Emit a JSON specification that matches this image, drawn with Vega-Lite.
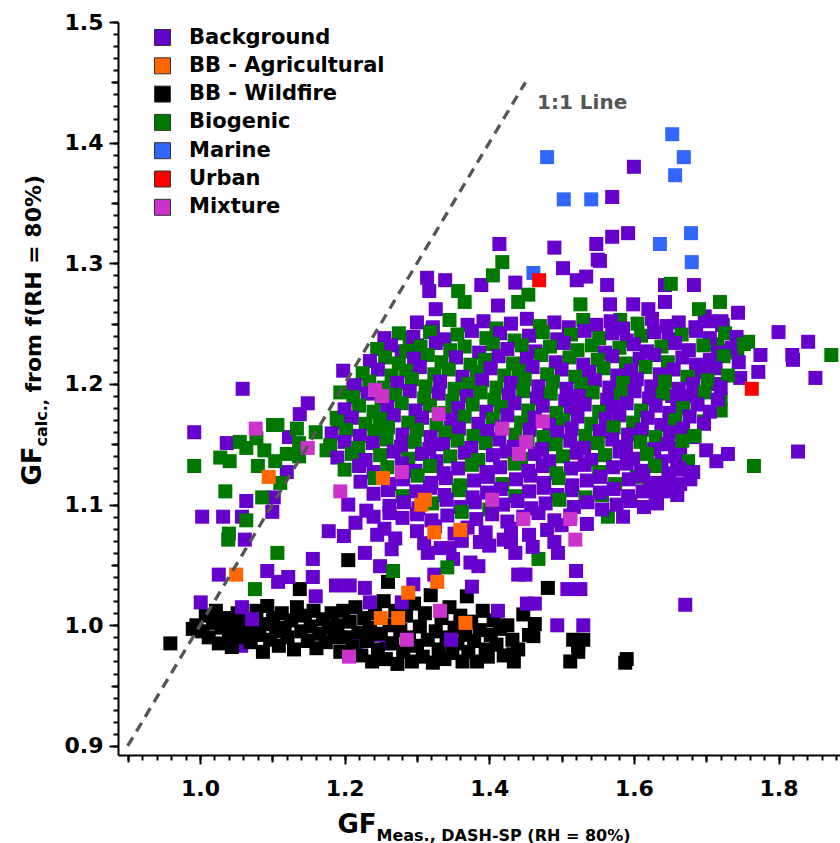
{
"$schema": "https://vega.github.io/schema/vega-lite/v6.json",
"autosize": {"type": "none"},
"width": 722,
"height": 733,
"padding": {"left": 118, "top": 22, "right": 0, "bottom": 88},
"background": "white",
"config": {"view": {"stroke": null}, "axis": {"grid": false, "labelColor": "black", "tickColor": "black", "domainColor": "black", "titleColor": "black", "labelFont": "DejaVu Sans", "titleFont": "DejaVu Sans", "labelFontWeight": "bold", "titleFontWeight": "bold"}},
"resolve": {"axis": {"x": "independent", "y": "independent"}},
"layer": [
{
"data": {"values": [
{"x":1.057,"y":0.983,"c":"Background"},{"x":1.195,"y":0.99,"c":"Background"},{"x":1.215,"y":0.985,"c":"Background"},{"x":1.235,"y":0.994,"c":"Background"},{"x":1.22,"y":0.99,"c":"Background"},{"x":1.245,"y":0.992,"c":"Background"},{"x":1.258,"y":0.985,"c":"Background"},
{"x":0.959,"y":0.985,"c":"BB - Wildfire"},{"x":0.99,"y":0.997,"c":"BB - Wildfire"},{"x":0.995,"y":1.0,"c":"BB - Wildfire"},{"x":1.003,"y":0.995,"c":"BB - Wildfire"},{"x":1.008,"y":1.008,"c":"BB - Wildfire"},{"x":1.012,"y":0.99,"c":"BB - Wildfire"},{"x":1.018,"y":1.002,"c":"BB - Wildfire"},{"x":1.022,"y":1.012,"c":"BB - Wildfire"},{"x":1.026,"y":0.985,"c":"BB - Wildfire"},{"x":1.03,"y":0.998,"c":"BB - Wildfire"},{"x":1.035,"y":1.006,"c":"BB - Wildfire"},{"x":1.04,"y":0.993,"c":"BB - Wildfire"},{"x":1.044,"y":0.982,"c":"BB - Wildfire"},{"x":1.048,"y":1.0,"c":"BB - Wildfire"},{"x":1.052,"y":1.01,"c":"BB - Wildfire"},{"x":1.057,"y":0.99,"c":"BB - Wildfire"},{"x":1.061,"y":0.998,"c":"BB - Wildfire"},{"x":1.066,"y":1.004,"c":"BB - Wildfire"},{"x":1.07,"y":0.986,"c":"BB - Wildfire"},{"x":1.074,"y":0.995,"c":"BB - Wildfire"},{"x":1.078,"y":1.012,"c":"BB - Wildfire"},{"x":1.082,"y":0.992,"c":"BB - Wildfire"},{"x":1.087,"y":0.978,"c":"BB - Wildfire"},{"x":1.09,"y":1.001,"c":"BB - Wildfire"},{"x":1.093,"y":1.016,"c":"BB - Wildfire"},{"x":1.097,"y":0.988,"c":"BB - Wildfire"},{"x":1.101,"y":1.006,"c":"BB - Wildfire"},{"x":1.105,"y":0.995,"c":"BB - Wildfire"},{"x":1.109,"y":0.983,"c":"BB - Wildfire"},{"x":1.113,"y":1.01,"c":"BB - Wildfire"},{"x":1.117,"y":0.998,"c":"BB - Wildfire"},{"x":1.121,"y":0.99,"c":"BB - Wildfire"},{"x":1.126,"y":1.004,"c":"BB - Wildfire"},{"x":1.13,"y":0.98,"c":"BB - Wildfire"},{"x":1.134,"y":1.015,"c":"BB - Wildfire"},{"x":1.138,"y":1.03,"c":"BB - Wildfire"},{"x":1.14,"y":0.995,"c":"BB - Wildfire"},{"x":1.145,"y":1.008,"c":"BB - Wildfire"},{"x":1.149,"y":0.987,"c":"BB - Wildfire"},{"x":1.153,"y":0.999,"c":"BB - Wildfire"},{"x":1.157,"y":1.012,"c":"BB - Wildfire"},{"x":1.161,"y":0.981,"c":"BB - Wildfire"},{"x":1.165,"y":0.993,"c":"BB - Wildfire"},{"x":1.17,"y":1.005,"c":"BB - Wildfire"},{"x":1.174,"y":0.986,"c":"BB - Wildfire"},{"x":1.178,"y":0.998,"c":"BB - Wildfire"},{"x":1.182,"y":1.01,"c":"BB - Wildfire"},{"x":1.186,"y":0.99,"c":"BB - Wildfire"},{"x":1.19,"y":1.0,"c":"BB - Wildfire"},{"x":1.194,"y":0.978,"c":"BB - Wildfire"},{"x":1.198,"y":1.012,"c":"BB - Wildfire"},{"x":1.205,"y":1.054,"c":"BB - Wildfire"},
{"x":1.202,"y":0.99,"c":"BB - Wildfire"},{"x":1.207,"y":1.003,"c":"BB - Wildfire"},{"x":1.211,"y":0.982,"c":"BB - Wildfire"},{"x":1.215,"y":1.015,"c":"BB - Wildfire"},{"x":1.219,"y":0.994,"c":"BB - Wildfire"},{"x":1.223,"y":0.975,"c":"BB - Wildfire"},{"x":1.227,"y":1.006,"c":"BB - Wildfire"},{"x":1.231,"y":0.987,"c":"BB - Wildfire"},{"x":1.235,"y":0.998,"c":"BB - Wildfire"},{"x":1.238,"y":0.97,"c":"BB - Wildfire"},{"x":1.242,"y":1.01,"c":"BB - Wildfire"},{"x":1.246,"y":0.98,"c":"BB - Wildfire"},{"x":1.25,"y":0.993,"c":"BB - Wildfire"},{"x":1.254,"y":1.02,"c":"BB - Wildfire"},{"x":1.257,"y":0.972,"c":"BB - Wildfire"},{"x":1.26,"y":1.036,"c":"BB - Wildfire"},{"x":1.262,"y":1.0,"c":"BB - Wildfire"},{"x":1.266,"y":0.985,"c":"BB - Wildfire"},{"x":1.27,"y":1.012,"c":"BB - Wildfire"},{"x":1.273,"y":0.968,"c":"BB - Wildfire"},{"x":1.277,"y":0.996,"c":"BB - Wildfire"},{"x":1.281,"y":0.978,"c":"BB - Wildfire"},{"x":1.285,"y":1.008,"c":"BB - Wildfire"},{"x":1.289,"y":0.99,"c":"BB - Wildfire"},{"x":1.293,"y":0.97,"c":"BB - Wildfire"},{"x":1.296,"y":1.018,"c":"BB - Wildfire"},{"x":1.3,"y":0.983,"c":"BB - Wildfire"},{"x":1.304,"y":0.999,"c":"BB - Wildfire"},{"x":1.308,"y":0.974,"c":"BB - Wildfire"},{"x":1.311,"y":1.01,"c":"BB - Wildfire"},{"x":1.315,"y":0.988,"c":"BB - Wildfire"},{"x":1.319,"y":1.025,"c":"BB - Wildfire"},{"x":1.322,"y":0.969,"c":"BB - Wildfire"},{"x":1.326,"y":0.995,"c":"BB - Wildfire"},{"x":1.33,"y":0.98,"c":"BB - Wildfire"},{"x":1.334,"y":1.006,"c":"BB - Wildfire"},{"x":1.338,"y":0.972,"c":"BB - Wildfire"},{"x":1.341,"y":0.99,"c":"BB - Wildfire"},{"x":1.345,"y":1.015,"c":"BB - Wildfire"},{"x":1.349,"y":0.977,"c":"BB - Wildfire"},{"x":1.352,"y":0.998,"c":"BB - Wildfire"},{"x":1.356,"y":0.985,"c":"BB - Wildfire"},{"x":1.36,"y":1.008,"c":"BB - Wildfire"},{"x":1.363,"y":0.97,"c":"BB - Wildfire"},{"x":1.367,"y":0.992,"c":"BB - Wildfire"},{"x":1.369,"y":1.024,"c":"BB - Wildfire"},{"x":1.371,"y":0.978,"c":"BB - Wildfire"},{"x":1.375,"y":1.003,"c":"BB - Wildfire"},{"x":1.379,"y":0.987,"c":"BB - Wildfire"},{"x":1.383,"y":0.97,"c":"BB - Wildfire"},{"x":1.387,"y":0.996,"c":"BB - Wildfire"},{"x":1.391,"y":1.012,"c":"BB - Wildfire"},{"x":1.395,"y":0.98,"c":"BB - Wildfire"},{"x":1.398,"y":0.974,"c":"BB - Wildfire"},{"x":1.402,"y":0.992,"c":"BB - Wildfire"},{"x":1.406,"y":1.004,"c":"BB - Wildfire"},{"x":1.41,"y":0.984,"c":"BB - Wildfire"},{"x":1.415,"y":0.997,"c":"BB - Wildfire"},{"x":1.42,"y":0.975,"c":"BB - Wildfire"},{"x":1.425,"y":1.0,"c":"BB - Wildfire"},{"x":1.432,"y":0.988,"c":"BB - Wildfire"},{"x":1.433,"y":0.976,"c":"BB - Wildfire"},{"x":1.434,"y":0.97,"c":"BB - Wildfire"},{"x":1.44,"y":0.98,"c":"BB - Wildfire"},{"x":1.447,"y":1.009,"c":"BB - Wildfire"},{"x":1.455,"y":0.992,"c":"BB - Wildfire"},{"x":1.461,"y":0.991,"c":"BB - Wildfire"},{"x":1.463,"y":1.001,"c":"BB - Wildfire"},
{"x":1.481,"y":1.031,"c":"BB - Wildfire"},{"x":1.512,"y":0.97,"c":"BB - Wildfire"},{"x":1.516,"y":0.988,"c":"BB - Wildfire"},{"x":1.523,"y":0.984,"c":"BB - Wildfire"},{"x":1.523,"y":0.978,"c":"BB - Wildfire"},{"x":1.53,"y":0.988,"c":"BB - Wildfire"},{"x":1.588,"y":0.969,"c":"BB - Wildfire"},{"x":1.59,"y":0.972,"c":"BB - Wildfire"},
{"x":1.347,"y":0.988,"c":"Background"},{"x":1.412,"y":1.012,"c":"Background"},{"x":1.452,"y":1.018,"c":"Background"},{"x":1.463,"y":1.018,"c":"Background"},{"x":1.494,"y":1.0,"c":"Background"},{"x":1.53,"y":1.0,"c":"Background"},{"x":1.52,"y":1.045,"c":"Background"},{"x":1.508,"y":1.03,"c":"Background"},{"x":1.526,"y":1.03,"c":"Background"},{"x":1.495,"y":1.06,"c":"Background"},{"x":1.44,"y":1.042,"c":"Background"},{"x":1.45,"y":1.042,"c":"Background"},{"x":1.671,"y":1.017,"c":"Background"},
{"x":1.324,"y":1.042,"c":"Background"},{"x":1.315,"y":1.06,"c":"Background"},{"x":1.333,"y":1.064,"c":"Background"},{"x":1.265,"y":1.063,"c":"Background"},{"x":1.249,"y":1.049,"c":"Background"},{"x":1.228,"y":1.06,"c":"Background"},{"x":1.228,"y":1.031,"c":"Background"},{"x":1.235,"y":1.019,"c":"Background"},{"x":1.279,"y":1.019,"c":"Background"},{"x":1.295,"y":1.034,"c":"Background"},{"x":1.436,"y":1.06,"c":"Background"},{"x":1.43,"y":1.069,"c":"Background"},{"x":1.387,"y":1.069,"c":"Background"},{"x":1.35,"y":1.055,"c":"Background"},{"x":1.374,"y":1.052,"c":"Background"},{"x":1.385,"y":1.049,"c":"Background"},{"x":1.376,"y":1.032,"c":"Background"},{"x":1.24,"y":1.09,"c":"Background"},{"x":1.255,"y":1.08,"c":"Background"},{"x":1.262,"y":1.093,"c":"Background"},{"x":1.245,"y":1.075,"c":"Background"},{"x":1.27,"y":1.072,"c":"Background"},{"x":1.205,"y":1.1,"c":"Background"},{"x":1.215,"y":1.085,"c":"Background"},{"x":1.23,"y":1.095,"c":"Background"},
{"x":1.059,"y":1.196,"c":"Background"},{"x":0.992,"y":1.16,"c":"Background"},{"x":1.037,"y":1.151,"c":"Background"},{"x":1.123,"y":1.156,"c":"Background"},{"x":1.12,"y":1.127,"c":"Background"},{"x":1.138,"y":1.175,"c":"Background"},{"x":1.149,"y":1.184,"c":"Background"},{"x":1.198,"y":1.211,"c":"Background"},{"x":1.212,"y":1.196,"c":"Background"},{"x":1.064,"y":1.103,"c":"Background"},{"x":1.102,"y":1.106,"c":"Background"},{"x":1.003,"y":1.09,"c":"Background"},{"x":1.032,"y":1.09,"c":"Background"},{"x":1.058,"y":1.09,"c":"Background"},{"x":1.1,"y":1.094,"c":"Background"},{"x":1.062,"y":1.071,"c":"Background"},{"x":1.178,"y":1.078,"c":"Background"},{"x":1.199,"y":1.074,"c":"Background"},{"x":1.198,"y":1.168,"c":"Background"},{"x":1.156,"y":1.055,"c":"Background"},{"x":1.026,"y":1.042,"c":"Background"},{"x":1.093,"y":1.045,"c":"Background"},{"x":1.108,"y":1.036,"c":"Background"},{"x":1.122,"y":1.04,"c":"Background"},{"x":1.156,"y":1.04,"c":"Background"},{"x":1.001,"y":1.019,"c":"Background"},{"x":1.058,"y":1.015,"c":"Background"},{"x":1.16,"y":1.024,"c":"Background"},{"x":1.188,"y":1.033,"c":"Background"},{"x":1.207,"y":1.033,"c":"Background"},{"x":1.072,"y":1.005,"c":"Background"},
{"x":1.6,"y":1.38,"c":"Background"},{"x":1.57,"y":1.355,"c":"Background"},{"x":1.592,"y":1.325,"c":"Background"},{"x":1.57,"y":1.322,"c":"Background"},{"x":1.548,"y":1.316,"c":"Background"},{"x":1.49,"y":1.313,"c":"Background"},{"x":1.414,"y":1.316,"c":"Background"},{"x":1.55,"y":1.303,"c":"Background"},{"x":1.502,"y":1.296,"c":"Background"},{"x":1.314,"y":1.288,"c":"Background"},{"x":1.339,"y":1.286,"c":"Background"},{"x":1.317,"y":1.277,"c":"Background"},{"x":1.389,"y":1.282,"c":"Background"},{"x":1.436,"y":1.284,"c":"Background"},{"x":1.326,"y":1.262,"c":"Background"},{"x":1.412,"y":1.265,"c":"Background"},{"x":1.521,"y":1.286,"c":"Background"},{"x":1.534,"y":1.289,"c":"Background"},{"x":1.553,"y":1.302,"c":"Background"},{"x":1.563,"y":1.282,"c":"Background"},{"x":1.643,"y":1.282,"c":"Background"},{"x":1.683,"y":1.282,"c":"Background"},{"x":1.567,"y":1.266,"c":"Background"},{"x":1.599,"y":1.266,"c":"Background"},{"x":1.62,"y":1.262,"c":"Background"},{"x":1.643,"y":1.268,"c":"Background"},{"x":1.744,"y":1.259,"c":"Background"},{"x":1.698,"y":1.256,"c":"Background"},{"x":1.8,"y":1.243,"c":"Background"},{"x":1.841,"y":1.235,"c":"Background"},{"x":1.775,"y":1.224,"c":"Background"},{"x":1.819,"y":1.224,"c":"Background"},{"x":1.721,"y":1.252,"c":"Background"},{"x":1.851,"y":1.205,"c":"Background"},{"x":1.827,"y":1.144,"c":"Background"},{"x":1.73,"y":1.142,"c":"Background"},{"x":1.714,"y":1.136,"c":"Background"},{"x":1.7,"y":1.145,"c":"Background"},{"x":1.682,"y":1.156,"c":"Background"},{"x":1.715,"y":1.2,"c":"Background"},{"x":1.747,"y":1.205,"c":"Background"},{"x":1.772,"y":1.21,"c":"Background"},{"x":1.82,"y":1.22,"c":"Background"},{"x":1.66,"y":1.108,"c":"Background"},{"x":1.622,"y":1.115,"c":"Background"},{"x":1.66,"y":1.129,"c":"Background"},{"x":1.664,"y":1.147,"c":"Background"},{"x":1.653,"y":1.16,"c":"Background"},{"x":1.653,"y":1.19,"c":"Background"},{"x":1.321,"y":1.244,"c":"Background"},{"x":1.3,"y":1.232,"c":"Background"},{"x":1.279,"y":1.227,"c":"Background"},
{"x":0.992,"y":1.132,"c":"Biogenic"},{"x":1.028,"y":1.139,"c":"Biogenic"},{"x":1.041,"y":1.136,"c":"Biogenic"},{"x":1.055,"y":1.152,"c":"Biogenic"},{"x":1.064,"y":1.147,"c":"Biogenic"},{"x":1.078,"y":1.155,"c":"Biogenic"},{"x":1.101,"y":1.166,"c":"Biogenic"},{"x":1.107,"y":1.166,"c":"Biogenic"},{"x":1.089,"y":1.145,"c":"Biogenic"},{"x":1.08,"y":1.132,"c":"Biogenic"},{"x":1.104,"y":1.136,"c":"Biogenic"},{"x":1.111,"y":1.118,"c":"Biogenic"},{"x":1.12,"y":1.142,"c":"Biogenic"},{"x":1.137,"y":1.14,"c":"Biogenic"},{"x":1.134,"y":1.163,"c":"Biogenic"},{"x":1.137,"y":1.151,"c":"Biogenic"},{"x":1.194,"y":1.193,"c":"Biogenic"},{"x":1.035,"y":1.111,"c":"Biogenic"},{"x":1.086,"y":1.106,"c":"Biogenic"},{"x":1.064,"y":1.087,"c":"Biogenic"},{"x":1.04,"y":1.076,"c":"Biogenic"},{"x":1.039,"y":1.071,"c":"Biogenic"},{"x":1.107,"y":1.06,"c":"Biogenic"},{"x":1.076,"y":1.03,"c":"Biogenic"},{"x":1.189,"y":1.172,"c":"Biogenic"},{"x":1.16,"y":1.16,"c":"Biogenic"},{"x":1.175,"y":1.145,"c":"Biogenic"},
{"x":1.418,"y":1.301,"c":"Biogenic"},{"x":1.405,"y":1.29,"c":"Biogenic"},{"x":1.357,"y":1.277,"c":"Biogenic"},{"x":1.366,"y":1.268,"c":"Biogenic"},{"x":1.44,"y":1.268,"c":"Biogenic"},{"x":1.454,"y":1.274,"c":"Biogenic"},{"x":1.526,"y":1.266,"c":"Biogenic"},{"x":1.29,"y":1.238,"c":"Biogenic"},{"x":1.651,"y":1.283,"c":"Biogenic"},{"x":1.69,"y":1.262,"c":"Biogenic"},{"x":1.719,"y":1.268,"c":"Biogenic"},{"x":1.581,"y":1.253,"c":"Biogenic"},{"x":1.873,"y":1.224,"c":"Biogenic"},{"x":1.758,"y":1.235,"c":"Biogenic"},{"x":1.723,"y":1.249,"c":"Biogenic"},{"x":1.715,"y":1.233,"c":"Biogenic"},{"x":1.73,"y":1.228,"c":"Biogenic"},{"x":1.743,"y":1.226,"c":"Biogenic"},{"x":1.766,"y":1.132,"c":"Biogenic"},{"x":1.697,"y":1.169,"c":"Biogenic"},{"x":1.72,"y":1.178,"c":"Biogenic"},{"x":1.72,"y":1.187,"c":"Biogenic"},{"x":1.675,"y":1.136,"c":"Biogenic"},{"x":1.664,"y":1.185,"c":"Biogenic"},{"x":1.678,"y":1.205,"c":"Biogenic"},{"x":1.604,"y":1.123,"c":"Biogenic"},{"x":1.564,"y":1.09,"c":"Biogenic"},{"x":1.556,"y":1.108,"c":"Biogenic"},{"x":1.468,"y":1.055,"c":"Biogenic"},{"x":1.342,"y":1.048,"c":"Biogenic"},{"x":1.267,"y":1.045,"c":"Biogenic"},
{"x":1.300,"y":1.251,"c":"Background"},{"x":1.322,"y":1.247,"c":"Background"},{"x":1.345,"y":1.253,"c":"Biogenic"},{"x":1.37,"y":1.249,"c":"Background"},{"x":1.392,"y":1.252,"c":"Background"},{"x":1.41,"y":1.246,"c":"Biogenic"},{"x":1.43,"y":1.25,"c":"Background"},{"x":1.452,"y":1.254,"c":"Background"},{"x":1.47,"y":1.248,"c":"Biogenic"},{"x":1.49,"y":1.251,"c":"Background"},{"x":1.51,"y":1.247,"c":"Background"},{"x":1.53,"y":1.253,"c":"Biogenic"},{"x":1.548,"y":1.249,"c":"Background"},{"x":1.568,"y":1.252,"c":"Background"},{"x":1.585,"y":1.246,"c":"Background"},{"x":1.605,"y":1.25,"c":"Biogenic"},{"x":1.625,"y":1.254,"c":"Background"},{"x":1.645,"y":1.248,"c":"Background"},{"x":1.662,"y":1.251,"c":"Background"},{"x":1.685,"y":1.247,"c":"Background"},{"x":1.705,"y":1.252,"c":"Background"},{"x":1.722,"y":1.249,"c":"Background"},
{"x":1.255,"y":1.238,"c":"Background"},{"x":1.275,"y":1.242,"c":"Biogenic"},{"x":1.295,"y":1.239,"c":"Background"},{"x":1.318,"y":1.243,"c":"Biogenic"},{"x":1.338,"y":1.237,"c":"Background"},{"x":1.356,"y":1.241,"c":"Biogenic"},{"x":1.376,"y":1.244,"c":"Background"},{"x":1.396,"y":1.238,"c":"Biogenic"},{"x":1.415,"y":1.242,"c":"Background"},{"x":1.435,"y":1.236,"c":"Biogenic"},{"x":1.455,"y":1.24,"c":"Background"},{"x":1.474,"y":1.243,"c":"Biogenic"},{"x":1.494,"y":1.237,"c":"Background"},{"x":1.513,"y":1.241,"c":"Biogenic"},{"x":1.532,"y":1.244,"c":"Background"},{"x":1.552,"y":1.238,"c":"Biogenic"},{"x":1.57,"y":1.242,"c":"Background"},{"x":1.59,"y":1.236,"c":"Background"},{"x":1.61,"y":1.24,"c":"Biogenic"},{"x":1.628,"y":1.243,"c":"Background"},{"x":1.648,"y":1.237,"c":"Background"},{"x":1.666,"y":1.241,"c":"Biogenic"},{"x":1.686,"y":1.244,"c":"Background"},{"x":1.705,"y":1.238,"c":"Background"},{"x":1.726,"y":1.242,"c":"Biogenic"},{"x":1.742,"y":1.239,"c":"Background"},
{"x":1.245,"y":1.229,"c":"Biogenic"},{"x":1.264,"y":1.232,"c":"Background"},{"x":1.285,"y":1.227,"c":"Biogenic"},{"x":1.305,"y":1.231,"c":"Biogenic"},{"x":1.326,"y":1.234,"c":"Background"},{"x":1.346,"y":1.228,"c":"Biogenic"},{"x":1.366,"y":1.231,"c":"Biogenic"},{"x":1.386,"y":1.226,"c":"Background"},{"x":1.405,"y":1.233,"c":"Biogenic"},{"x":1.425,"y":1.229,"c":"Background"},{"x":1.445,"y":1.232,"c":"Biogenic"},{"x":1.464,"y":1.227,"c":"Background"},{"x":1.484,"y":1.231,"c":"Biogenic"},{"x":1.503,"y":1.234,"c":"Background"},{"x":1.522,"y":1.228,"c":"Biogenic"},{"x":1.542,"y":1.232,"c":"Biogenic"},{"x":1.56,"y":1.226,"c":"Background"},{"x":1.58,"y":1.23,"c":"Biogenic"},{"x":1.6,"y":1.233,"c":"Background"},{"x":1.618,"y":1.227,"c":"Background"},{"x":1.638,"y":1.231,"c":"Biogenic"},{"x":1.657,"y":1.234,"c":"Background"},{"x":1.676,"y":1.228,"c":"Background"},{"x":1.696,"y":1.232,"c":"Biogenic"},{"x":1.716,"y":1.226,"c":"Background"},{"x":1.735,"y":1.23,"c":"Background"},{"x":1.752,"y":1.233,"c":"Biogenic"},
{"x":1.235,"y":1.219,"c":"Background"},{"x":1.256,"y":1.222,"c":"Biogenic"},{"x":1.275,"y":1.217,"c":"Biogenic"},{"x":1.296,"y":1.221,"c":"Background"},{"x":1.315,"y":1.224,"c":"Biogenic"},{"x":1.334,"y":1.218,"c":"Biogenic"},{"x":1.354,"y":1.222,"c":"Background"},{"x":1.374,"y":1.216,"c":"Biogenic"},{"x":1.394,"y":1.22,"c":"Biogenic"},{"x":1.413,"y":1.223,"c":"Background"},{"x":1.433,"y":1.217,"c":"Biogenic"},{"x":1.452,"y":1.221,"c":"Background"},{"x":1.472,"y":1.224,"c":"Biogenic"},{"x":1.492,"y":1.218,"c":"Background"},{"x":1.511,"y":1.222,"c":"Biogenic"},{"x":1.53,"y":1.216,"c":"Background"},{"x":1.55,"y":1.22,"c":"Biogenic"},{"x":1.57,"y":1.223,"c":"Background"},{"x":1.589,"y":1.217,"c":"Biogenic"},{"x":1.608,"y":1.221,"c":"Background"},{"x":1.628,"y":1.224,"c":"Background"},{"x":1.647,"y":1.218,"c":"Biogenic"},{"x":1.667,"y":1.222,"c":"Background"},{"x":1.686,"y":1.216,"c":"Background"},{"x":1.705,"y":1.22,"c":"Background"},{"x":1.724,"y":1.223,"c":"Biogenic"},{"x":1.745,"y":1.218,"c":"Background"},
{"x":1.225,"y":1.209,"c":"Biogenic"},{"x":1.246,"y":1.212,"c":"Background"},{"x":1.265,"y":1.207,"c":"Biogenic"},{"x":1.285,"y":1.211,"c":"Biogenic"},{"x":1.304,"y":1.214,"c":"Background"},{"x":1.324,"y":1.208,"c":"Biogenic"},{"x":1.344,"y":1.212,"c":"Biogenic"},{"x":1.363,"y":1.206,"c":"Background"},{"x":1.383,"y":1.21,"c":"Biogenic"},{"x":1.402,"y":1.213,"c":"Background"},{"x":1.421,"y":1.207,"c":"Biogenic"},{"x":1.441,"y":1.211,"c":"Biogenic"},{"x":1.46,"y":1.214,"c":"Background"},{"x":1.48,"y":1.208,"c":"Biogenic"},{"x":1.5,"y":1.212,"c":"Background"},{"x":1.519,"y":1.206,"c":"Biogenic"},{"x":1.538,"y":1.21,"c":"Background"},{"x":1.558,"y":1.213,"c":"Biogenic"},{"x":1.577,"y":1.207,"c":"Background"},{"x":1.596,"y":1.211,"c":"Background"},{"x":1.616,"y":1.214,"c":"Biogenic"},{"x":1.636,"y":1.208,"c":"Background"},{"x":1.655,"y":1.212,"c":"Background"},{"x":1.674,"y":1.206,"c":"Biogenic"},{"x":1.694,"y":1.21,"c":"Background"},{"x":1.713,"y":1.213,"c":"Background"},{"x":1.73,"y":1.207,"c":"Biogenic"},
{"x":1.214,"y":1.199,"c":"Background"},{"x":1.234,"y":1.202,"c":"Biogenic"},{"x":1.254,"y":1.197,"c":"Biogenic"},{"x":1.273,"y":1.201,"c":"Background"},{"x":1.293,"y":1.204,"c":"Biogenic"},{"x":1.312,"y":1.198,"c":"Biogenic"},{"x":1.332,"y":1.202,"c":"Background"},{"x":1.352,"y":1.196,"c":"Biogenic"},{"x":1.371,"y":1.2,"c":"Biogenic"},{"x":1.39,"y":1.203,"c":"Background"},{"x":1.41,"y":1.197,"c":"Biogenic"},{"x":1.43,"y":1.201,"c":"Background"},{"x":1.449,"y":1.204,"c":"Biogenic"},{"x":1.468,"y":1.198,"c":"Background"},{"x":1.488,"y":1.202,"c":"Biogenic"},{"x":1.507,"y":1.196,"c":"Background"},{"x":1.527,"y":1.2,"c":"Biogenic"},{"x":1.546,"y":1.203,"c":"Background"},{"x":1.566,"y":1.197,"c":"Background"},{"x":1.585,"y":1.201,"c":"Biogenic"},{"x":1.604,"y":1.204,"c":"Background"},{"x":1.624,"y":1.198,"c":"Background"},{"x":1.643,"y":1.202,"c":"Biogenic"},{"x":1.662,"y":1.196,"c":"Background"},{"x":1.682,"y":1.2,"c":"Background"},{"x":1.702,"y":1.203,"c":"Biogenic"},{"x":1.72,"y":1.197,"c":"Background"},
{"x":1.212,"y":1.189,"c":"Biogenic"},{"x":1.232,"y":1.192,"c":"Background"},{"x":1.251,"y":1.187,"c":"Biogenic"},{"x":1.27,"y":1.191,"c":"Biogenic"},{"x":1.29,"y":1.194,"c":"Background"},{"x":1.31,"y":1.188,"c":"Biogenic"},{"x":1.33,"y":1.192,"c":"Background"},{"x":1.349,"y":1.186,"c":"Biogenic"},{"x":1.369,"y":1.19,"c":"Background"},{"x":1.388,"y":1.193,"c":"Biogenic"},{"x":1.407,"y":1.187,"c":"Biogenic"},{"x":1.427,"y":1.191,"c":"Background"},{"x":1.447,"y":1.194,"c":"Biogenic"},{"x":1.466,"y":1.188,"c":"Background"},{"x":1.485,"y":1.192,"c":"Biogenic"},{"x":1.505,"y":1.186,"c":"Background"},{"x":1.524,"y":1.19,"c":"Background"},{"x":1.543,"y":1.193,"c":"Biogenic"},{"x":1.563,"y":1.187,"c":"Background"},{"x":1.582,"y":1.191,"c":"Biogenic"},{"x":1.601,"y":1.194,"c":"Background"},{"x":1.621,"y":1.188,"c":"Background"},{"x":1.64,"y":1.192,"c":"Biogenic"},{"x":1.66,"y":1.186,"c":"Background"},{"x":1.679,"y":1.19,"c":"Background"},{"x":1.698,"y":1.193,"c":"Biogenic"},{"x":1.716,"y":1.187,"c":"Background"},
{"x":1.2,"y":1.179,"c":"Background"},{"x":1.22,"y":1.182,"c":"Biogenic"},{"x":1.24,"y":1.177,"c":"Biogenic"},{"x":1.259,"y":1.181,"c":"Background"},{"x":1.279,"y":1.184,"c":"Biogenic"},{"x":1.298,"y":1.178,"c":"Background"},{"x":1.318,"y":1.182,"c":"Biogenic"},{"x":1.338,"y":1.176,"c":"Biogenic"},{"x":1.357,"y":1.18,"c":"Background"},{"x":1.377,"y":1.183,"c":"Biogenic"},{"x":1.396,"y":1.177,"c":"Background"},{"x":1.416,"y":1.181,"c":"Biogenic"},{"x":1.435,"y":1.184,"c":"Background"},{"x":1.454,"y":1.178,"c":"Biogenic"},{"x":1.474,"y":1.182,"c":"Background"},{"x":1.493,"y":1.176,"c":"Biogenic"},{"x":1.513,"y":1.18,"c":"Background"},{"x":1.532,"y":1.183,"c":"Background"},{"x":1.552,"y":1.177,"c":"Biogenic"},{"x":1.571,"y":1.181,"c":"Background"},{"x":1.59,"y":1.184,"c":"Background"},{"x":1.61,"y":1.178,"c":"Biogenic"},{"x":1.63,"y":1.182,"c":"Background"},{"x":1.649,"y":1.176,"c":"Background"},{"x":1.668,"y":1.18,"c":"Biogenic"},{"x":1.688,"y":1.183,"c":"Background"},{"x":1.705,"y":1.177,"c":"Background"},
{"x":1.19,"y":1.169,"c":"Biogenic"},{"x":1.21,"y":1.172,"c":"Background"},{"x":1.229,"y":1.167,"c":"Biogenic"},{"x":1.249,"y":1.171,"c":"Biogenic"},{"x":1.268,"y":1.174,"c":"Background"},{"x":1.288,"y":1.168,"c":"Biogenic"},{"x":1.307,"y":1.172,"c":"Background"},{"x":1.327,"y":1.166,"c":"Biogenic"},{"x":1.347,"y":1.17,"c":"Background"},{"x":1.366,"y":1.173,"c":"Biogenic"},{"x":1.385,"y":1.167,"c":"Background"},{"x":1.405,"y":1.171,"c":"Biogenic"},{"x":1.425,"y":1.174,"c":"Background"},{"x":1.444,"y":1.168,"c":"Biogenic"},{"x":1.463,"y":1.172,"c":"Background"},{"x":1.483,"y":1.166,"c":"Background"},{"x":1.502,"y":1.17,"c":"Biogenic"},{"x":1.522,"y":1.173,"c":"Background"},{"x":1.541,"y":1.167,"c":"Biogenic"},{"x":1.561,"y":1.171,"c":"Background"},{"x":1.58,"y":1.174,"c":"Background"},{"x":1.599,"y":1.168,"c":"Biogenic"},{"x":1.619,"y":1.172,"c":"Background"},{"x":1.638,"y":1.166,"c":"Background"},{"x":1.657,"y":1.17,"c":"Biogenic"},{"x":1.677,"y":1.173,"c":"Background"},{"x":1.697,"y":1.167,"c":"Background"},
{"x":1.182,"y":1.159,"c":"Background"},{"x":1.202,"y":1.162,"c":"Biogenic"},{"x":1.221,"y":1.157,"c":"Background"},{"x":1.241,"y":1.161,"c":"Biogenic"},{"x":1.26,"y":1.164,"c":"Biogenic"},{"x":1.28,"y":1.158,"c":"Background"},{"x":1.3,"y":1.162,"c":"Biogenic"},{"x":1.319,"y":1.156,"c":"Background"},{"x":1.339,"y":1.16,"c":"Biogenic"},{"x":1.358,"y":1.163,"c":"Background"},{"x":1.378,"y":1.157,"c":"Biogenic"},{"x":1.397,"y":1.161,"c":"Background"},{"x":1.417,"y":1.164,"c":"Background"},{"x":1.436,"y":1.158,"c":"Biogenic"},{"x":1.456,"y":1.162,"c":"Background"},{"x":1.475,"y":1.156,"c":"Biogenic"},{"x":1.494,"y":1.16,"c":"Background"},{"x":1.514,"y":1.163,"c":"Background"},{"x":1.533,"y":1.157,"c":"Biogenic"},{"x":1.553,"y":1.161,"c":"Background"},{"x":1.572,"y":1.164,"c":"Biogenic"},{"x":1.592,"y":1.158,"c":"Background"},{"x":1.611,"y":1.162,"c":"Background"},{"x":1.63,"y":1.156,"c":"Biogenic"},{"x":1.65,"y":1.16,"c":"Background"},{"x":1.668,"y":1.163,"c":"Background"},{"x":1.684,"y":1.157,"c":"Biogenic"},
{"x":1.18,"y":1.149,"c":"Biogenic"},{"x":1.2,"y":1.152,"c":"Background"},{"x":1.219,"y":1.147,"c":"Biogenic"},{"x":1.239,"y":1.151,"c":"Background"},{"x":1.258,"y":1.154,"c":"Biogenic"},{"x":1.278,"y":1.148,"c":"Background"},{"x":1.297,"y":1.152,"c":"Biogenic"},{"x":1.317,"y":1.146,"c":"Background"},{"x":1.336,"y":1.15,"c":"Background"},{"x":1.356,"y":1.153,"c":"Biogenic"},{"x":1.375,"y":1.147,"c":"Background"},{"x":1.395,"y":1.151,"c":"Biogenic"},{"x":1.414,"y":1.154,"c":"Background"},{"x":1.434,"y":1.148,"c":"Background"},{"x":1.453,"y":1.152,"c":"Biogenic"},{"x":1.473,"y":1.146,"c":"Background"},{"x":1.492,"y":1.15,"c":"Biogenic"},{"x":1.512,"y":1.153,"c":"Background"},{"x":1.531,"y":1.147,"c":"Background"},{"x":1.55,"y":1.151,"c":"Biogenic"},{"x":1.57,"y":1.154,"c":"Background"},{"x":1.589,"y":1.148,"c":"Background"},{"x":1.609,"y":1.152,"c":"Biogenic"},{"x":1.628,"y":1.146,"c":"Background"},{"x":1.647,"y":1.15,"c":"Background"},{"x":1.667,"y":1.153,"c":"Biogenic"},
{"x":1.19,"y":1.139,"c":"Background"},{"x":1.21,"y":1.142,"c":"Biogenic"},{"x":1.229,"y":1.137,"c":"Background"},{"x":1.249,"y":1.141,"c":"Biogenic"},{"x":1.268,"y":1.144,"c":"Background"},{"x":1.288,"y":1.138,"c":"Biogenic"},{"x":1.307,"y":1.142,"c":"Background"},{"x":1.327,"y":1.136,"c":"Background"},{"x":1.346,"y":1.14,"c":"Biogenic"},{"x":1.366,"y":1.143,"c":"Background"},{"x":1.385,"y":1.137,"c":"Biogenic"},{"x":1.405,"y":1.141,"c":"Background"},{"x":1.424,"y":1.144,"c":"Background"},{"x":1.444,"y":1.138,"c":"Biogenic"},{"x":1.463,"y":1.142,"c":"Background"},{"x":1.483,"y":1.136,"c":"Background"},{"x":1.502,"y":1.14,"c":"Biogenic"},{"x":1.521,"y":1.143,"c":"Background"},{"x":1.541,"y":1.137,"c":"Background"},{"x":1.56,"y":1.141,"c":"Biogenic"},{"x":1.58,"y":1.144,"c":"Background"},{"x":1.599,"y":1.138,"c":"Background"},{"x":1.618,"y":1.142,"c":"Biogenic"},{"x":1.638,"y":1.136,"c":"Background"},{"x":1.657,"y":1.14,"c":"Background"},
{"x":1.2,"y":1.129,"c":"Biogenic"},{"x":1.22,"y":1.132,"c":"Background"},{"x":1.24,"y":1.127,"c":"Background"},{"x":1.259,"y":1.131,"c":"Biogenic"},{"x":1.279,"y":1.134,"c":"Background"},{"x":1.298,"y":1.128,"c":"Background"},{"x":1.318,"y":1.132,"c":"Biogenic"},{"x":1.337,"y":1.126,"c":"Background"},{"x":1.357,"y":1.13,"c":"Background"},{"x":1.376,"y":1.133,"c":"Biogenic"},{"x":1.396,"y":1.127,"c":"Background"},{"x":1.415,"y":1.131,"c":"Background"},{"x":1.435,"y":1.134,"c":"Biogenic"},{"x":1.454,"y":1.128,"c":"Background"},{"x":1.474,"y":1.132,"c":"Background"},{"x":1.493,"y":1.126,"c":"Biogenic"},{"x":1.513,"y":1.13,"c":"Background"},{"x":1.532,"y":1.133,"c":"Background"},{"x":1.552,"y":1.127,"c":"Biogenic"},{"x":1.571,"y":1.131,"c":"Background"},{"x":1.59,"y":1.134,"c":"Background"},{"x":1.61,"y":1.128,"c":"Background"},{"x":1.629,"y":1.132,"c":"Biogenic"},{"x":1.648,"y":1.126,"c":"Background"},{"x":1.663,"y":1.13,"c":"Background"},{"x":1.682,"y":1.127,"c":"Background"},
{"x":1.222,"y":1.119,"c":"Background"},{"x":1.242,"y":1.122,"c":"Biogenic"},{"x":1.262,"y":1.117,"c":"Background"},{"x":1.281,"y":1.121,"c":"Background"},{"x":1.301,"y":1.124,"c":"Biogenic"},{"x":1.32,"y":1.118,"c":"Background"},{"x":1.34,"y":1.122,"c":"Background"},{"x":1.36,"y":1.116,"c":"Biogenic"},{"x":1.379,"y":1.12,"c":"Background"},{"x":1.398,"y":1.123,"c":"Background"},{"x":1.418,"y":1.117,"c":"Biogenic"},{"x":1.437,"y":1.121,"c":"Background"},{"x":1.457,"y":1.124,"c":"Background"},{"x":1.476,"y":1.118,"c":"Background"},{"x":1.496,"y":1.122,"c":"Biogenic"},{"x":1.515,"y":1.116,"c":"Background"},{"x":1.535,"y":1.12,"c":"Background"},{"x":1.554,"y":1.123,"c":"Background"},{"x":1.574,"y":1.117,"c":"Biogenic"},{"x":1.593,"y":1.121,"c":"Background"},{"x":1.613,"y":1.124,"c":"Background"},{"x":1.632,"y":1.118,"c":"Background"},{"x":1.648,"y":1.121,"c":"Background"},{"x":1.664,"y":1.117,"c":"Background"},{"x":1.678,"y":1.121,"c":"Background"},
{"x":1.24,"y":1.109,"c":"Background"},{"x":1.26,"y":1.112,"c":"Background"},{"x":1.28,"y":1.107,"c":"Biogenic"},{"x":1.299,"y":1.111,"c":"Background"},{"x":1.318,"y":1.114,"c":"Background"},{"x":1.338,"y":1.108,"c":"Background"},{"x":1.358,"y":1.112,"c":"Biogenic"},{"x":1.377,"y":1.106,"c":"Background"},{"x":1.397,"y":1.11,"c":"Background"},{"x":1.416,"y":1.113,"c":"Background"},{"x":1.436,"y":1.107,"c":"Biogenic"},{"x":1.455,"y":1.111,"c":"Background"},{"x":1.475,"y":1.114,"c":"Background"},{"x":1.494,"y":1.108,"c":"Background"},{"x":1.514,"y":1.112,"c":"Background"},{"x":1.533,"y":1.106,"c":"Biogenic"},{"x":1.553,"y":1.11,"c":"Background"},{"x":1.572,"y":1.113,"c":"Background"},{"x":1.592,"y":1.107,"c":"Background"},{"x":1.612,"y":1.111,"c":"Background"},{"x":1.63,"y":1.107,"c":"Background"},{"x":1.645,"y":1.111,"c":"Background"},
{"x":1.262,"y":1.099,"c":"Background"},{"x":1.282,"y":1.102,"c":"Background"},{"x":1.302,"y":1.097,"c":"Background"},{"x":1.321,"y":1.101,"c":"Biogenic"},{"x":1.341,"y":1.104,"c":"Background"},{"x":1.36,"y":1.098,"c":"Background"},{"x":1.38,"y":1.102,"c":"Background"},{"x":1.4,"y":1.096,"c":"Biogenic"},{"x":1.419,"y":1.1,"c":"Background"},{"x":1.439,"y":1.103,"c":"Background"},{"x":1.458,"y":1.097,"c":"Background"},{"x":1.478,"y":1.101,"c":"Background"},{"x":1.497,"y":1.104,"c":"Biogenic"},{"x":1.517,"y":1.098,"c":"Background"},{"x":1.536,"y":1.102,"c":"Background"},{"x":1.556,"y":1.096,"c":"Background"},{"x":1.576,"y":1.1,"c":"Background"},{"x":1.595,"y":1.103,"c":"Background"},{"x":1.614,"y":1.098,"c":"Background"},{"x":1.632,"y":1.101,"c":"Background"},
{"x":1.28,"y":1.089,"c":"Background"},{"x":1.3,"y":1.092,"c":"Background"},{"x":1.32,"y":1.087,"c":"Background"},{"x":1.342,"y":1.091,"c":"Background"},{"x":1.362,"y":1.094,"c":"Biogenic"},{"x":1.382,"y":1.088,"c":"Background"},{"x":1.404,"y":1.092,"c":"Background"},{"x":1.425,"y":1.086,"c":"Background"},{"x":1.447,"y":1.09,"c":"Background"},{"x":1.468,"y":1.093,"c":"Background"},{"x":1.49,"y":1.087,"c":"Background"},{"x":1.512,"y":1.091,"c":"Background"},{"x":1.535,"y":1.084,"c":"Background"},{"x":1.585,"y":1.09,"c":"Background"},
{"x":1.3,"y":1.078,"c":"Background"},{"x":1.325,"y":1.082,"c":"Background"},{"x":1.352,"y":1.076,"c":"Background"},{"x":1.37,"y":1.081,"c":"Background"},{"x":1.395,"y":1.077,"c":"Background"},{"x":1.43,"y":1.08,"c":"Background"},{"x":1.455,"y":1.075,"c":"Background"},{"x":1.48,"y":1.079,"c":"Background"},{"x":1.5,"y":1.083,"c":"Background"},
{"x":1.31,"y":1.068,"c":"Background"},{"x":1.345,"y":1.064,"c":"Background"},{"x":1.362,"y":1.07,"c":"Background"},{"x":1.4,"y":1.066,"c":"Background"},{"x":1.42,"y":1.071,"c":"Background"},{"x":1.46,"y":1.065,"c":"Background"},{"x":1.49,"y":1.069,"c":"Background"},
{"x":1.05,"y":1.042,"c":"BB - Agricultural"},{"x":1.095,"y":1.123,"c":"BB - Agricultural"},{"x":1.253,"y":1.122,"c":"BB - Agricultural"},{"x":1.311,"y":1.104,"c":"BB - Agricultural"},{"x":1.306,"y":1.1,"c":"BB - Agricultural"},{"x":1.36,"y":1.079,"c":"BB - Agricultural"},{"x":1.324,"y":1.077,"c":"BB - Agricultural"},{"x":1.328,"y":1.036,"c":"BB - Agricultural"},{"x":1.288,"y":1.027,"c":"BB - Agricultural"},{"x":1.25,"y":1.006,"c":"BB - Agricultural"},{"x":1.274,"y":1.006,"c":"BB - Agricultural"},{"x":1.367,"y":1.002,"c":"BB - Agricultural"},
{"x":1.077,"y":1.163,"c":"Mixture"},{"x":1.149,"y":1.147,"c":"Mixture"},{"x":1.194,"y":1.111,"c":"Mixture"},{"x":1.242,"y":1.195,"c":"Mixture"},{"x":1.252,"y":1.19,"c":"Mixture"},{"x":1.33,"y":1.175,"c":"Mixture"},{"x":1.418,"y":1.163,"c":"Mixture"},{"x":1.451,"y":1.152,"c":"Mixture"},{"x":1.441,"y":1.142,"c":"Mixture"},{"x":1.474,"y":1.169,"c":"Mixture"},{"x":1.447,"y":1.088,"c":"Mixture"},{"x":1.512,"y":1.088,"c":"Mixture"},{"x":1.519,"y":1.071,"c":"Mixture"},{"x":1.279,"y":1.127,"c":"Mixture"},{"x":1.404,"y":1.104,"c":"Mixture"},{"x":1.332,"y":1.012,"c":"Mixture"},{"x":1.286,"y":0.988,"c":"Mixture"},{"x":1.206,"y":0.974,"c":"Mixture"},
{"x":1.653,"y":1.407,"c":"Marine"},{"x":1.669,"y":1.388,"c":"Marine"},{"x":1.48,"y":1.388,"c":"Marine"},{"x":1.657,"y":1.373,"c":"Marine"},{"x":1.503,"y":1.353,"c":"Marine"},{"x":1.541,"y":1.353,"c":"Marine"},{"x":1.636,"y":1.316,"c":"Marine"},{"x":1.679,"y":1.325,"c":"Marine"},{"x":1.68,"y":1.301,"c":"Marine"},{"x":1.461,"y":1.292,"c":"Marine"},
{"x":1.469,"y":1.286,"c":"Urban"},{"x":1.763,"y":1.196,"c":"Urban"}
]},
"mark": {"type": "point", "shape": "square", "filled": true, "size": 196, "opacity": 1},
"encoding": {
"x": {"field": "x", "type": "quantitative", "scale": {"domain": [0.8866, 1.885], "nice": false, "zero": false},
"axis": {"orient": "bottom", "values": [1.0, 1.2, 1.4, 1.6, 1.8], "format": ".1f", "tickSize": 9, "tickWidth": 2, "domainWidth": 2, "labelFontSize": 22, "labelPadding": 14, "labelFlush": false, "labelOverlap": false,
"title": "GF", "titleFontSize": 26, "titleX": 219, "titleY": 77, "titleAlign": "left", "titleBaseline": "alphabetic"}},
"y": {"field": "y", "type": "quantitative", "scale": {"domain": [0.8925, 1.5], "nice": false, "zero": false},
"axis": {"orient": "left", "values": [0.9, 1.0, 1.1, 1.2, 1.3, 1.4, 1.5], "format": ".1f", "tickSize": 9, "tickWidth": 2, "domainWidth": 2, "labelFontSize": 22, "labelPadding": 6, "labelFlush": false, "labelOverlap": false,
"title": "GF", "titleFontSize": 26, "titleAngle": -90, "titleX": -78, "titleY": 463, "titleAlign": "left", "titleBaseline": "alphabetic"}},
"color": {"field": "c", "type": "nominal",
"scale": {"domain": ["Background", "BB - Agricultural", "BB - Wildfire", "Biogenic", "Marine", "Urban", "Mixture"], "range": ["#6600CC", "#FF6600", "#000000", "#007800", "#3366FF", "#FF0000", "#CC33CC"]},
"legend": {"orient": "none", "legendX": 34, "legendY": 5, "title": null, "symbolType": "square", "symbolSize": 256, "symbolStrokeColor": "#333333", "symbolStrokeWidth": 1, "labelFont": "DejaVu Sans", "labelFontWeight": "bold", "labelFontSize": 21, "labelOffset": 16, "rowPadding": 6.3, "padding": 0, "labelLimit": 0,
"encode": {"labels": {"update": {"fill": {"scale": "color", "field": "value"}}}, "symbols": {"update": {"stroke": {"value": "#333333"}, "strokeWidth": {"value": 1}}}}}}
}
},
{
"data": {"values": [{"v": 0.9}, {"v": 1.45}]},
"mark": {"type": "line", "color": "#555555", "strokeWidth": 3.3, "strokeDash": [10, 7]},
"encoding": {
"x": {"field": "v", "type": "quantitative", "scale": {"domain": [0.8866, 1.885], "nice": false, "zero": false},
"axis": {"orient": "bottom", "values": [0.9,0.92,0.94,0.96,0.98,1.0,1.02,1.04,1.06,1.08,1.1,1.12,1.14,1.16,1.18,1.2,1.22,1.24,1.26,1.28,1.3,1.32,1.34,1.36,1.38,1.4,1.42,1.44,1.46,1.48,1.5,1.52,1.54,1.56,1.58,1.6,1.62,1.64,1.66,1.68,1.7,1.72,1.74,1.76,1.78,1.8,1.82,1.84,1.86,1.88], "labels": false, "domain": false, "tickSize": 5, "tickWidth": 2,
"title": "Meas., DASH-SP (RH = 80%)", "titleFontSize": 16, "titleX": 258, "titleY": 85, "titleAlign": "left", "titleBaseline": "alphabetic"}},
"y": {"field": "v", "type": "quantitative", "scale": {"domain": [0.8925, 1.5], "nice": false, "zero": false},
"axis": {"orient": "left", "values": [0.9,0.91,0.92,0.93,0.94,0.95,0.96,0.97,0.98,0.99,1.0,1.01,1.02,1.03,1.04,1.05,1.06,1.07,1.08,1.09,1.1,1.11,1.12,1.13,1.14,1.15,1.16,1.17,1.18,1.19,1.2,1.21,1.22,1.23,1.24,1.25,1.26,1.27,1.28,1.29,1.3,1.31,1.32,1.33,1.34,1.35,1.36,1.37,1.38,1.39,1.4,1.41,1.42,1.43,1.44,1.45,1.46,1.47,1.48,1.49,1.5], "labels": false, "domain": false, "tickSize": 5, "tickWidth": 2,
"title": "calc.,", "titleFontSize": 16, "titleAngle": -90, "titleX": -72, "titleY": 424, "titleAlign": "left", "titleBaseline": "alphabetic"}}
}
},
{
"data": {"values": [{"x": 1.466, "y": 1.428, "label": "1:1 Line"}]},
"mark": {"type": "text", "align": "left", "baseline": "alphabetic", "font": "DejaVu Sans", "fontWeight": "bold", "fontSize": 20, "color": "#555555"},
"encoding": {
"x": {"field": "x", "type": "quantitative", "scale": {"domain": [0.8866, 1.885], "nice": false, "zero": false},
"axis": {"orient": "bottom", "values": [0.9, 1.1, 1.3, 1.5, 1.7], "labels": false, "domain": false, "tickSize": 7, "tickWidth": 2, "title": null}},
"y": {"field": "y", "type": "quantitative", "scale": {"domain": [0.8925, 1.5], "nice": false, "zero": false},
"axis": {"orient": "left", "values": [0.95, 1.05, 1.15, 1.25, 1.35, 1.45], "labels": false, "domain": false, "tickSize": 7, "tickWidth": 2,
"title": "from f(RH = 80%)", "titleFontSize": 22, "titleAngle": -90, "titleX": -78, "titleY": 370, "titleAlign": "left", "titleBaseline": "alphabetic"}},
"text": {"field": "label"}
}
}
]
}
